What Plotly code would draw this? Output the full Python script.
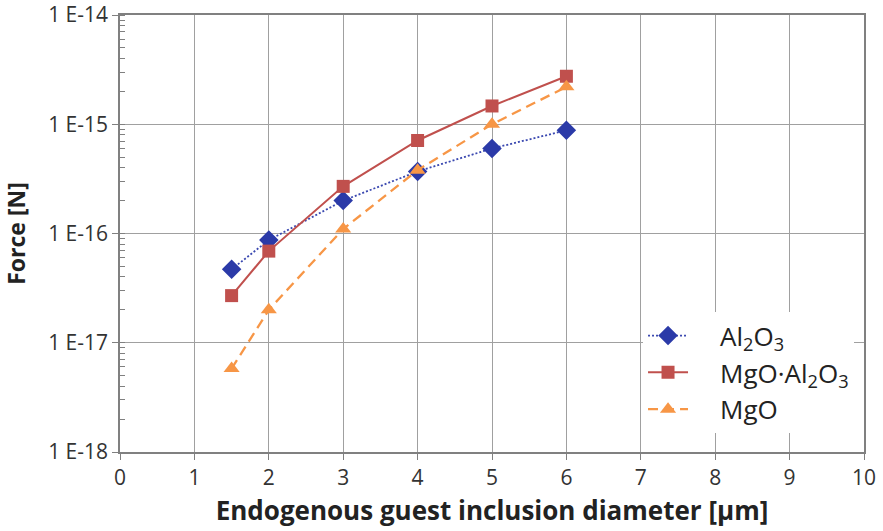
import plotly.graph_objects as go

diam = [1.5, 2, 3, 4, 5, 6]
al2o3 = [4.7e-17, 8.7e-17, 2.0e-16, 3.7e-16, 6.0e-16, 8.8e-16]
mgo_al2o3 = [2.7e-17, 6.9e-17, 2.7e-16, 7.1e-16, 1.47e-15, 2.75e-15]
mgo = [5.8e-18, 2.0e-17, 1.1e-16, 3.8e-16, 1.0e-15, 2.2e-15]

ytick_vals = [1e-18, 1e-17, 1e-16, 1e-15, 1e-14]
ytick_text = ["1 E-18", "1 E-17", "1 E-16", "1 E-15", "1 E-14"]

FONT = "Open Sans, Segoe UI, sans-serif"
PAD = "&nbsp;&nbsp;&nbsp;&nbsp;"

fig = go.Figure()
fig.add_trace(go.Scatter(
    x=diam, y=al2o3, name=PAD + "Al<sub>2</sub>O<sub>3</sub>", mode="lines+markers",
    line=dict(color="#3A48B0", width=1.8, dash="2px,2px"),
    marker=dict(symbol="diamond", size=15, color="#2B3AA8"),
))
fig.add_trace(go.Scatter(
    x=diam, y=mgo_al2o3, name=PAD + "MgO·Al<sub>2</sub>O<sub>3</sub>", mode="lines+markers",
    line=dict(color="#C0504D", width=2),
    marker=dict(symbol="square", size=13, color="#C0504D"),
))
fig.add_trace(go.Scatter(
    x=diam, y=mgo, name=PAD + "MgO", mode="lines+markers",
    line=dict(color="#F79646", width=2.3, dash="10px,6px"),
    marker=dict(symbol="triangle-up", size=14, color="#F79646"),
))

fig.update_layout(
    width=883, height=531,
    margin=dict(l=120, r=19, t=15, b=79),
    paper_bgcolor="white", plot_bgcolor="white",
    font=dict(family=FONT, size=21, color="#333333"),
    showlegend=True,
    legend=dict(
        x=0.703, y=0.32, xanchor="left", yanchor="top",
        bgcolor="white", borderwidth=0,
        font=dict(family=FONT, size=26, color="#222222"),
        tracegroupgap=0, itemwidth=40,
    ),
    xaxis=dict(
        range=[0, 10], dtick=1, tick0=0, automargin=False,
        ticklabeloverflow="allow",
        showgrid=True, gridcolor="#A0A0A0", gridwidth=1,
        showline=True, linecolor="#808080", linewidth=1.5, mirror=True,
        ticks="outside", ticklen=6, tickcolor="#808080",
        zeroline=False,
        tickfont=dict(size=21, color="#333333"),
        title=dict(text="<b>Endogenous guest inclusion diameter [μm]</b>",
                   font=dict(size=26, color="#222222"), standoff=12),
    ),
    yaxis=dict(
        type="log", range=[-18, -14], automargin=False,
        ticklabeloverflow="allow",
        tickvals=ytick_vals, ticktext=ytick_text,
        showgrid=True, gridcolor="#A0A0A0", gridwidth=1,
        showline=True, linecolor="#808080", linewidth=1.5, mirror=True,
        ticks="outside", ticklen=6, tickcolor="#808080",
        minor=dict(ticks="inside", ticklen=5, tickcolor="#808080",
                   showgrid=False, dtick="D1"),
        tickfont=dict(size=21, color="#333333"),
        title=dict(text="<b>Force [N]</b>",
                   font=dict(size=23, color="#222222"), standoff=18),
    ),
)

fig.write_html("out.html", config={"displayModeBar": False},
               post_script="document.body.style.margin='0';document.body.style.padding='0';")
